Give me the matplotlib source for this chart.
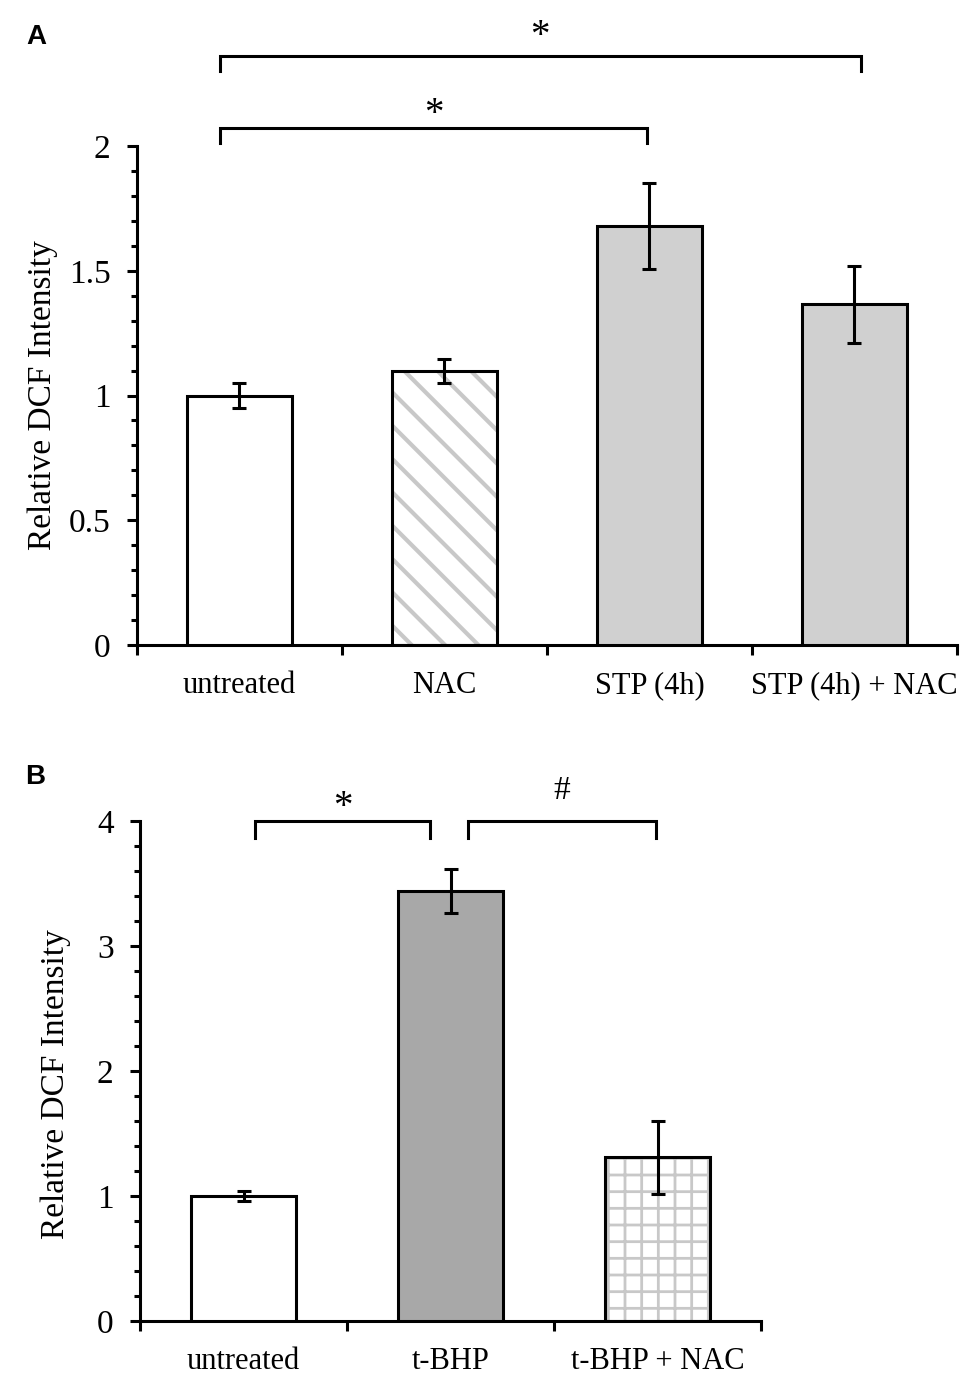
import matplotlib
matplotlib.use("Agg")
import matplotlib.pyplot as plt
import numpy as np
from matplotlib.ticker import MultipleLocator, FixedLocator, FormatStrFormatter

# ---- data ------------------------------------------------------------
labels_a = ["untreated", "NAC", "STP (4h)", "STP (4h) + NAC"]
means_a = [1.00, 1.10, 1.68, 1.365]
errs_a = [0.05, 0.048, 0.173, 0.155]

labels_b = ["untreated", "t-BHP", "t-BHP + NAC"]
means_b = [1.00, 3.44, 1.31]
errs_b = [0.04, 0.175, 0.29]

# brackets: (x start, x end, bracket y, text, text y)
brackets_a = [(-0.095, 1.99, 2.072, "*", 2.125),
              (-0.095, 3.03, 2.36, "*", 2.44)]
brackets_b = [(0.056, 0.90, 4.0, "*", 4.11),
              (1.085, 1.993, 4.0, "#", 4.24)]

# ---- style -----------------------------------------------------------
plt.rcParams["font.family"] = ["Liberation Serif", "DejaVu Serif"]
lw = 2.2
fs = 22
fs_y = 24


def style_axes(ax, ymax, major, minor, ncat, label_x, label_y):
    ax.spines["top"].set_visible(False)
    ax.spines["right"].set_visible(False)
    ax.spines["left"].set_linewidth(lw)
    ax.spines["bottom"].set_linewidth(lw)
    ax.set_xlim(-0.5, ncat - 0.5)
    ax.set_ylim(0, ymax)
    ax.yaxis.set_major_locator(MultipleLocator(major))
    ax.yaxis.set_minor_locator(MultipleLocator(minor))
    ax.yaxis.set_major_formatter(FormatStrFormatter("%g"))
    ax.tick_params(axis="y", which="major", direction="out", length=7,
                   width=lw, labelsize=fs_y, pad=12)
    ax.tick_params(axis="y", which="minor", direction="out", length=4.5,
                   width=lw)
    ax.xaxis.set_major_locator(FixedLocator(np.arange(ncat)))
    ax.xaxis.set_minor_locator(FixedLocator(np.arange(ncat + 1) - 0.5))
    ax.tick_params(axis="x", which="major", length=0, labelsize=fs, pad=19)
    ax.tick_params(axis="x", which="minor", direction="out", length=7,
                   width=lw)
    ax.set_ylabel("Relative DCF Intensity", fontsize=fs_y)
    ax.yaxis.set_label_coords(label_x, label_y)


def draw_bar(ax, x, h, err, face, hatch=None, hcolor=None, hlw=1.0):
    if hatch is not None:
        plt.rcParams["hatch.linewidth"] = hlw
        ax.bar(x, h, width=0.51, color="white", edgecolor=hcolor,
               hatch=hatch, linewidth=0, zorder=2)
        ax.bar(x, h, width=0.51, color="none", edgecolor="black",
               linewidth=lw, zorder=3)
    else:
        ax.bar(x, h, width=0.51, color=face, edgecolor="black",
               linewidth=lw, zorder=3)
    ax.errorbar(x, h, yerr=err, fmt="none", ecolor="black", elinewidth=lw,
                capsize=5, capthick=lw, zorder=4)


def draw_bracket(ax, x0, x1, y, drop, txt, ty):
    ax.plot([x0, x0, x1, x1], [y - drop, y, y, y - drop], color="black",
            lw=lw, clip_on=False, solid_joinstyle="miter")
    ax.text((x0 + x1) / 2, ty, txt, ha="center", va="center",
            fontsize=28 if txt == "*" else 24, clip_on=False)


fig = plt.figure(figsize=(9.75, 13.83), dpi=100)

# ---- panel A ---------------------------------------------------------
ax1 = fig.add_axes([0.1405, 0.5336, 0.841, 0.3608])
style_axes(ax1, 2, 0.5, 0.1, len(labels_a), -0.096, 0.5)
xa = np.arange(len(labels_a))
draw_bar(ax1, xa[0], means_a[0], errs_a[0], "white")
draw_bar(ax1, xa[1], means_a[1], errs_a[1], "white", hatch="\\",
         hcolor="#c8c8c8", hlw=3.0)
draw_bar(ax1, xa[2], means_a[2], errs_a[2], "#d0d0d0")
draw_bar(ax1, xa[3], means_a[3], errs_a[3], "#d0d0d0")
ax1.set_xticklabels(labels_a)
for x0, x1, y, txt, ty in brackets_a:
    draw_bracket(ax1, x0, x1, y, 0.06, txt, ty)
fig.text(0.037, 0.973, "A", fontsize=20, fontweight="bold",
         family="Liberation Sans", ha="center", va="center")

# ---- panel B ---------------------------------------------------------
ax2 = fig.add_axes([0.1436, 0.0448, 0.637, 0.3615])
style_axes(ax2, 4, 1, 0.2, len(labels_b), -0.111, 0.474)
xb = np.arange(len(labels_b))
draw_bar(ax2, xb[0], means_b[0], errs_b[0], "white")
draw_bar(ax2, xb[1], means_b[1], errs_b[1], "#a8a8a8")
draw_bar(ax2, xb[2], means_b[2], errs_b[2], "white", hatch="+",
         hcolor="#c8c8c8", hlw=2.0)
ax2.set_xticklabels(labels_b)
for x0, x1, y, txt, ty in brackets_b:
    draw_bracket(ax2, x0, x1, y, 0.136, txt, ty)
fig.text(0.036, 0.438, "B", fontsize=20, fontweight="bold",
         family="Liberation Sans", ha="center", va="center")

fig.savefig("out.png", dpi=100)
